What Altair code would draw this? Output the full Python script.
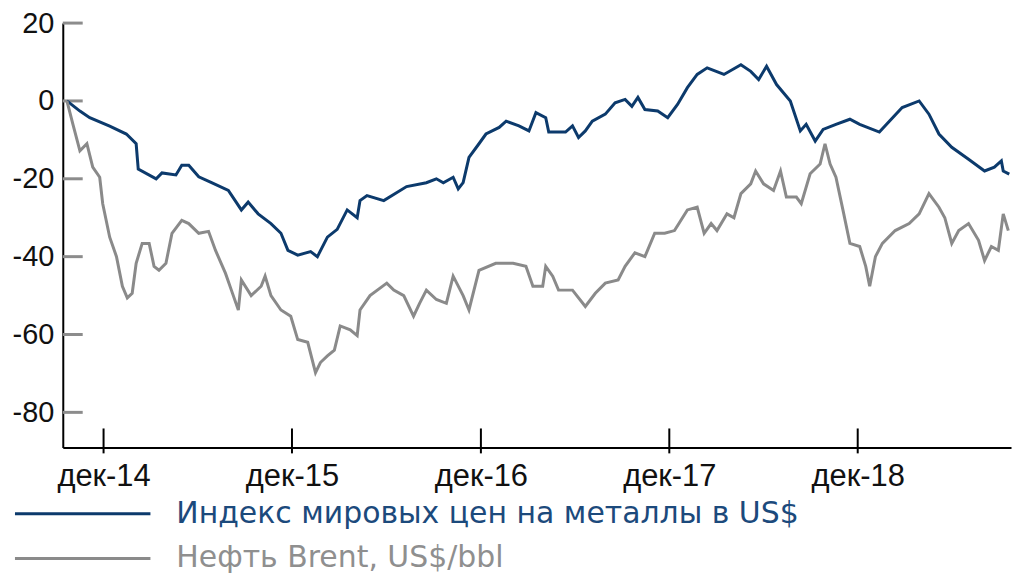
import json
import altair as alt
import pandas as pd

# series (time as decimal years, % change)
metals_t = [2014.720, 2014.789, 2014.841, 2014.947, 2015.036, 2015.088, 2015.099, 2015.194, 2015.225, 2015.299,
            2015.330, 2015.367, 2015.420, 2015.488, 2015.577, 2015.646, 2015.682, 2015.735, 2015.803, 2015.856,
            2015.893, 2015.945, 2016.014, 2016.050, 2016.103, 2016.155, 2016.208, 2016.261, 2016.276, 2016.313,
            2016.402, 2016.523, 2016.628, 2016.681, 2016.718, 2016.770, 2016.797, 2016.823, 2016.854, 2016.907,
            2016.944, 2017.012, 2017.049, 2017.117, 2017.170, 2017.207, 2017.259, 2017.275, 2017.364, 2017.401,
            2017.433, 2017.469, 2017.506, 2017.575, 2017.627, 2017.680, 2017.716, 2017.748, 2017.785, 2017.853,
            2017.906, 2017.958, 2018.011, 2018.063, 2018.116, 2018.205, 2018.295, 2018.347, 2018.389, 2018.431,
            2018.484, 2018.557, 2018.610, 2018.641, 2018.689, 2018.731, 2018.799, 2018.873, 2018.925, 2019.030,
            2019.083, 2019.151, 2019.241, 2019.293, 2019.346, 2019.414, 2019.503, 2019.588, 2019.640, 2019.677,
            2019.687, 2019.719]
metals_v = [0, -2.6, -4.3, -6.5, -8.5, -11, -17.5, -20, -18.5, -19,
            -16.5, -16.5, -19.5, -21, -23, -28, -26, -29, -31.5, -34,
            -38.4, -39.6, -38.7, -40, -35, -33, -28, -30, -25.6, -24.3,
            -25.6, -22, -21, -20, -21, -19.6, -22.6, -21, -14.5, -11,
            -8.5, -6.8, -5.2, -6.4, -7.7, -3, -4.3, -8, -8, -6.4,
            -9.4, -7.7, -5.2, -3.4, -0.5, 0.4, -1.4, 0.9, -2.2, -2.6,
            -4.3, -0.9, 3.4, 6.8, 8.5, 6.8, 9.3, 7.6, 5.5, 8.9,
            4.2, 0, -7.7, -6, -10.3, -7.3, -6, -4.7, -6, -8,
            -5.2, -1.7, 0, -3.4, -8.5, -11.9, -15, -18, -17, -15.4,
            -18, -18.8]

brent_t = [2014.720, 2014.752, 2014.789, 2014.826, 2014.857, 2014.894, 2014.910, 2014.947, 2014.983, 2015.015,
           2015.041, 2015.067, 2015.088, 2015.120, 2015.157, 2015.183, 2015.209, 2015.246, 2015.278, 2015.330,
           2015.367, 2015.420, 2015.472, 2015.509, 2015.562, 2015.593, 2015.630, 2015.646, 2015.698, 2015.751,
           2015.772, 2015.803, 2015.856, 2015.908, 2015.945, 2015.998, 2016.040, 2016.066, 2016.103, 2016.140,
           2016.171, 2016.224, 2016.261, 2016.276, 2016.329, 2016.418, 2016.455, 2016.508, 2016.560, 2016.592,
           2016.628, 2016.681, 2016.734, 2016.770, 2016.823, 2016.854, 2016.907, 2016.996, 2017.086, 2017.154,
           2017.191, 2017.243, 2017.259, 2017.296, 2017.327, 2017.401, 2017.469, 2017.522, 2017.575, 2017.643,
           2017.680, 2017.732, 2017.785, 2017.837, 2017.890, 2017.942, 2018.011, 2018.063, 2018.100, 2018.137,
           2018.168, 2018.221, 2018.258, 2018.295, 2018.347, 2018.373, 2018.415, 2018.468, 2018.505, 2018.536,
           2018.589, 2018.615, 2018.662, 2018.715, 2018.741, 2018.768, 2018.799, 2018.836, 2018.873, 2018.925,
           2018.957, 2018.978, 2019.009, 2019.046, 2019.114, 2019.188, 2019.241, 2019.293, 2019.346, 2019.377,
           2019.414, 2019.451, 2019.503, 2019.556, 2019.588, 2019.624, 2019.661, 2019.687, 2019.714]
brent_v = [0, -6, -12.8, -11, -17, -19.6, -26.4, -35, -40, -47.6,
           -50.6, -49.4, -41.7, -36.6, -36.6, -42.5, -43.5, -41.7, -34, -30.7,
           -31.5, -34, -33.5, -38.4, -44.3, -48.6, -53.7, -46, -50, -47.6,
           -45, -50, -53.7, -55.3, -61.3, -62, -69.8, -67.2, -65.5, -64,
           -57.8, -58.8, -60.3, -53.7, -50, -46.8, -48.6, -50, -55.3, -52,
           -48.6, -51, -52, -45, -50, -53.7, -43.5, -41.7, -41.7, -42.5,
           -47.6, -47.6, -42.5, -45, -48.6, -48.6, -52.8, -49.4, -46.8, -46,
           -42.5, -39, -40, -34, -34, -33.3, -28, -27.3, -34, -31.5,
           -33.3, -29, -30, -23.8, -21.3, -18, -21.3, -23, -18, -24.7,
           -24.7, -26.4, -18.7, -16.2, -11, -16.2, -19.6, -28, -36.6, -37.4,
           -42.5, -47.6, -40, -36.6, -33.3, -31.5, -29, -23.8, -27.3, -30,
           -36.6, -33.3, -31.5, -35.8, -41, -37.4, -38.4, -29, -33.3]

series_names = ["Индекс мировых цен на металлы в US$", "Нефть Brent, US$/bbl"]
series_colors = ["#0c3a6c", "#8a8a8a"]
label_colors = ["#1c4a7c", "#8f8f8f"]

y_ticks = [20, 0, -20, -40, -60, -80]
y_domain = [-89, 20]
x_tick_years = [2014, 2015, 2016, 2017, 2018]
x_tick_labels = ["дек-14", "дек-15", "дек-16", "дек-17", "дек-18"]
x_range = [2014.70, 2019.73]

FONT = "Liberation Sans"
W, H = 952, 426


def to_date(v):
    y = int(v)
    return pd.Timestamp(y, 1, 1) + pd.Timedelta(days=(v - y) * 365.25)


df = pd.concat([
    pd.DataFrame({"date": [to_date(t) for t in metals_t], "value": metals_v, "series": series_names[0]}),
    pd.DataFrame({"date": [to_date(t) for t in brent_t], "value": brent_v, "series": series_names[1]}),
])
xt_df = pd.DataFrame({"date": [pd.Timestamp(y, 12, 1) for y in x_tick_years]})
yt_df = pd.DataFrame({"value": y_ticks})

x_dom = [alt.DateTime(year=d.year, month=d.month, date=d.day) for d in map(to_date, x_range)]
x_vals = [alt.DateTime(year=y, month=12, date=1) for y in x_tick_years]
label_expr = json.dumps(x_tick_labels, ensure_ascii=False) + f"[year(datum.value) - {x_tick_years[0]}]"

x_enc = alt.X("date:T", scale=alt.Scale(domain=x_dom), title=None,
              axis=alt.Axis(values=x_vals, labelExpr=label_expr, ticks=False, grid=False,
                            domainColor="black", domainWidth=2, labelPadding=14,
                            labelFont=FONT, labelFontSize=31, labelColor="#111"))
y_scale = alt.Scale(domain=y_domain, nice=False, zero=False)

color = alt.Color("series:N", scale=alt.Scale(domain=series_names, range=series_colors), legend=None)

lines = alt.Chart(df).mark_line(strokeWidth=3).encode(
    x=x_enc,
    y=alt.Y("value:Q", scale=y_scale, title=None,
            axis=alt.Axis(values=y_ticks, labelExpr="'' + datum.value", ticks=False, grid=False,
                          domainColor="black", domainWidth=2, labelPadding=9, minExtent=55,
                          labelFont=FONT, labelFontSize=29, labelColor="#111")),
    color=color,
    detail="series:N",
)

# ticks drawn inward, as in the reference
y_tick_marks = alt.Chart(yt_df).mark_rule(color="#8c8c8c", strokeWidth=3).encode(
    y=alt.Y("value:Q", scale=y_scale), x=alt.value(0), x2=alt.value(20))
x_tick_marks = alt.Chart(xt_df).mark_rule(color="black", strokeWidth=2).encode(
    x=alt.X("date:T"), y=alt.value(H - 19), y2=alt.value(H + 6))

main = alt.layer(y_tick_marks, x_tick_marks, lines).properties(width=W, height=H)

leg_df = pd.DataFrame({"series": series_names, "color": label_colors})
leg_y = alt.Y("series:N", sort=series_names, axis=None, scale=alt.Scale(type="point", padding=0.5))
leg_rule = alt.Chart(leg_df).mark_rule(strokeWidth=3).encode(
    y=leg_y, x=alt.value(-48), x2=alt.value(88), color=color)
leg_text = alt.Chart(leg_df).mark_text(align="left", baseline="middle", font="DejaVu Sans", fontSize=30).encode(
    y=leg_y, x=alt.value(114), text="series:N",
    color=alt.Color("color:N", scale=None, legend=None))
legend = alt.layer(leg_rule, leg_text).properties(width=W, height=90)

chart = alt.vconcat(main, legend, spacing=0).properties(padding=0).configure_view(stroke=None)

chart.save("out.html", embed_options={"renderer": "svg", "actions": False})
